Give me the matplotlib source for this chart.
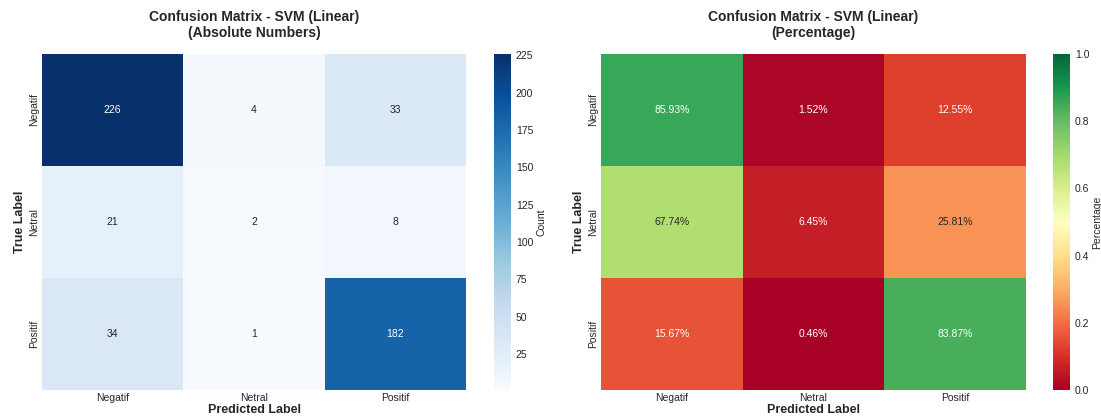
import numpy as np
import matplotlib
matplotlib.use('Agg')
import matplotlib.pyplot as plt
import seaborn as sns

labels = ['Negatif', 'Netral', 'Positif']
cm = np.array([[226, 4, 33],
               [21, 2, 8],
               [34, 1, 182]])
model_name = 'SVM (Linear)'

sns.set_style('white')
plt.rcParams['font.family'] = ['Liberation Sans', 'DejaVu Sans']
plt.rcParams['font.size'] = 7

cm_pct = cm / cm.sum(axis=1, keepdims=True)

fig = plt.figure(figsize=(11.01, 4.16), dpi=100)
ax1 = fig.add_axes([42 / 1101, 26 / 416, 424 / 1101, 336 / 416])
cax1 = fig.add_axes([494 / 1101, 26 / 416, 17 / 1101, 336 / 416])
ax2 = fig.add_axes([601 / 1101, 26 / 416, 425 / 1101, 336 / 416])
cax2 = fig.add_axes([1053 / 1101, 26 / 416, 17 / 1101, 336 / 416])

sns.heatmap(cm, annot=True, fmt='d', cmap='Blues', ax=ax1, cbar_ax=cax1,
            xticklabels=labels, yticklabels=labels,
            cbar_kws={'label': 'Count'}, annot_kws={'size': 7.5})
ax1.set_title(f'Confusion Matrix - {model_name}\n(Absolute Numbers)',
              fontsize=10, fontweight='bold', pad=12)
ax1.set_xlabel('Predicted Label', fontsize=9, fontweight='bold')
ax1.set_ylabel('True Label', fontsize=9, fontweight='bold')

pct_annot = np.array([[f'{v * 100:.2f}%' for v in row] for row in cm_pct])
sns.heatmap(cm_pct, annot=pct_annot, fmt='', cmap='RdYlGn', vmin=0, vmax=1,
            ax=ax2, cbar_ax=cax2, xticklabels=labels, yticklabels=labels,
            cbar_kws={'label': 'Percentage'}, annot_kws={'size': 7.5})
ax2.set_title(f'Confusion Matrix - {model_name}\n(Percentage)',
              fontsize=10, fontweight='bold', pad=12)
ax2.set_xlabel('Predicted Label', fontsize=9, fontweight='bold')
ax2.set_ylabel('True Label', fontsize=9, fontweight='bold')

for ax in (ax1, ax2):
    ax.tick_params(axis='both', length=0, labelsize=7.5, pad=2)
    ax.xaxis.labelpad = 1
    ax.yaxis.labelpad = 2
for cax in (cax1, cax2):
    cax.tick_params(length=0, labelsize=7.5)
    cax.yaxis.label.set_size(7.5)
    cax.yaxis.labelpad = 2

fig.savefig('out.png', dpi=100)
